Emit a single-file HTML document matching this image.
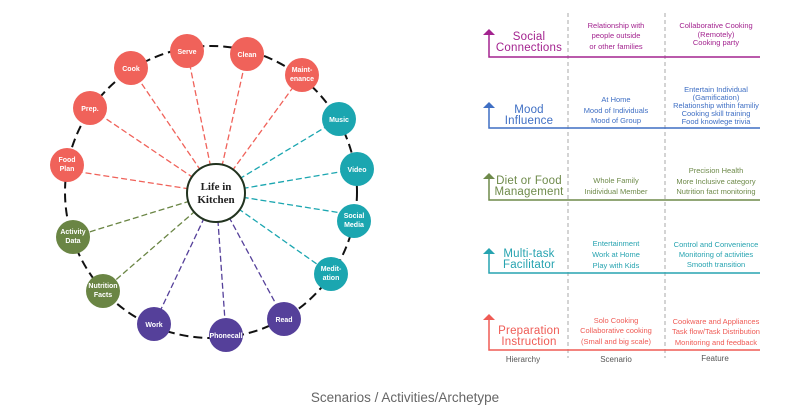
<!DOCTYPE html>
<html><head><meta charset="utf-8"><style>
html,body{margin:0;padding:0;background:#fff;}
svg{display:block;}
.n{font-family:"Liberation Sans",sans-serif;font-size:7px;fill:#fff;text-anchor:middle;font-weight:bold;}
.h{font-size:11.5px;letter-spacing:0.2px;}
</style></head><body>
<svg width="800" height="418" viewBox="0 0 800 418" xmlns="http://www.w3.org/2000/svg">
<rect width="800" height="418" fill="#fff"/>
<circle cx="211" cy="192" r="146" fill="none" stroke="#111" stroke-width="2" stroke-dasharray="9,5"/>
<g stroke-width="1.3" stroke-dasharray="6,3" fill="none">
<g stroke="#f0625a">
<line x1="216" y1="193" x2="187" y2="51"/><line x1="216" y1="193" x2="247" y2="54"/>
<line x1="216" y1="193" x2="302" y2="75"/><line x1="216" y1="193" x2="131" y2="68"/>
<line x1="216" y1="193" x2="90" y2="108"/><line x1="216" y1="193" x2="67" y2="170"/>
</g>
<g stroke="#1ba6b0">
<line x1="216" y1="193" x2="339" y2="119"/><line x1="216" y1="193" x2="357" y2="169"/>
<line x1="216" y1="193" x2="354" y2="215"/><line x1="216" y1="193" x2="331" y2="274"/>
</g>
<g stroke="#6a8544">
<line x1="216" y1="193" x2="73" y2="237"/><line x1="216" y1="193" x2="103" y2="291"/>
</g>
<g stroke="#55409a">
<line x1="216" y1="193" x2="154" y2="324"/><line x1="216" y1="193" x2="226" y2="335"/>
<line x1="216" y1="193" x2="284" y2="319"/>
</g>
</g>
<circle cx="216" cy="193" r="29" fill="#fff" stroke="#22331f" stroke-width="2"/>
<text x="216" y="190" style="font-family:'Liberation Serif',serif;font-size:11px;font-weight:bold" text-anchor="middle" fill="#222">Life in</text>
<text x="216" y="203" style="font-family:'Liberation Serif',serif;font-size:11px;font-weight:bold" text-anchor="middle" fill="#222">Kitchen</text>
<g>
<g fill="#f0625a">
<circle cx="187" cy="51" r="17"/><circle cx="247" cy="54" r="17"/><circle cx="302" cy="75" r="17"/>
<circle cx="131" cy="68" r="17"/><circle cx="90" cy="108" r="17"/><circle cx="67" cy="165" r="17"/>
</g>
<g fill="#1ba6b0">
<circle cx="339" cy="119" r="17"/><circle cx="357" cy="169" r="17"/><circle cx="354" cy="221" r="17"/><circle cx="331" cy="274" r="17"/>
</g>
<g fill="#6a8544"><circle cx="73" cy="237" r="17"/><circle cx="103" cy="291" r="17"/></g>
<g fill="#55409a"><circle cx="154" cy="324" r="17"/><circle cx="226" cy="335" r="17"/><circle cx="284" cy="319" r="17"/></g>
</g>
<text class="n" x="187" y="54">Serve</text>
<text class="n" x="247" y="57">Clean</text>
<text class="n" x="302" y="72">Maint-</text><text class="n" x="302" y="81">enance</text>
<text class="n" x="131" y="71">Cook</text>
<text class="n" x="90" y="111">Prep.</text>
<text class="n" x="67" y="162">Food</text><text class="n" x="67" y="171">Plan</text>
<text class="n" x="339" y="122">Music</text>
<text class="n" x="357" y="172">Video</text>
<text class="n" x="354" y="218">Social</text><text class="n" x="354" y="227">Media</text>
<text class="n" x="331" y="271">Medit-</text><text class="n" x="331" y="280">ation</text>
<text class="n" x="73" y="234">Activity</text><text class="n" x="73" y="243">Data</text>
<text class="n" x="103" y="288">Nutrition</text><text class="n" x="103" y="297">Facts</text>
<text class="n" x="154" y="327">Work</text>
<text class="n" x="226" y="338">Phonecall</text>
<text class="n" x="284" y="322">Read</text>

<g stroke="#aaa" stroke-width="1" stroke-dasharray="4,3">
<line x1="568" y1="13" x2="568" y2="358"/><line x1="665" y1="13" x2="665" y2="358"/>
</g>

<g font-family="Liberation Sans,sans-serif">
<g fill="#a3238f" stroke="#a3238f">
<polyline points="489,34 489,57 760,57" fill="none" stroke-width="1.5"/>
<polygon points="483,35 489,29 495,35" stroke="none"/>
</g>
<g fill="#a3238f">
<text class="h" x="529" y="40" text-anchor="middle">Social</text>
<text class="h" x="529" y="51" text-anchor="middle">Connections</text>
<text x="616" y="28" font-size="7.5" text-anchor="middle">Relationship with</text>
<text x="616" y="38" font-size="7.5" text-anchor="middle">people outside</text>
<text x="616" y="49" font-size="7.5" text-anchor="middle">or other families</text>
<text x="716" y="28" font-size="7.5" text-anchor="middle">Collaborative Cooking</text>
<text x="716" y="37" font-size="7.5" text-anchor="middle">(Remotely)</text>
<text x="716" y="45" font-size="7.5" text-anchor="middle">Cooking party</text>
</g>
<g fill="#3f6fc4" stroke="#3f6fc4">
<polyline points="489,107 489,128 760,128" fill="none" stroke-width="1.5"/>
<polygon points="483,108 489,102 495,108" stroke="none"/>
</g>
<g fill="#3f6fc4">
<text class="h" x="529" y="113" text-anchor="middle">Mood</text>
<text class="h" x="529" y="124" text-anchor="middle">Influence</text>
<text x="616" y="102" font-size="7.5" text-anchor="middle">At Home</text>
<text x="616" y="113" font-size="7.5" text-anchor="middle">Mood of Individuals</text>
<text x="616" y="123" font-size="7.5" text-anchor="middle">Mood of Group</text>
<text x="716" y="92" font-size="7.5" text-anchor="middle">Entertain Individual</text>
<text x="716" y="100" font-size="7.5" text-anchor="middle">(Gamification)</text>
<text x="716" y="108" font-size="7.5" text-anchor="middle">Relationship within familiy</text>
<text x="716" y="116" font-size="7.5" text-anchor="middle">Cooking skill training</text>
<text x="716" y="124" font-size="7.5" text-anchor="middle">Food knowlege trivia</text>
</g>
<g fill="#6e8a4a" stroke="#6e8a4a">
<polyline points="489,178 489,200 760,200" fill="none" stroke-width="1.5"/>
<polygon points="483,179 489,173 495,179" stroke="none"/>
</g>
<g fill="#6e8a4a">
<text class="h" x="529" y="184" text-anchor="middle">Diet or Food</text>
<text class="h" x="529" y="195" text-anchor="middle">Management</text>
<text x="616" y="183" font-size="7.5" text-anchor="middle">Whole Family</text>
<text x="616" y="194" font-size="7.5" text-anchor="middle">Inidividual Member</text>
<text x="716" y="173" font-size="7.5" text-anchor="middle">Precision Health</text>
<text x="716" y="184" font-size="7.5" text-anchor="middle">More Inclusive category</text>
<text x="716" y="194" font-size="7.5" text-anchor="middle">Nutrition fact monitoring</text>
</g>
<g fill="#26a3b0" stroke="#26a3b0">
<polyline points="489,253 489,273 760,273" fill="none" stroke-width="1.5"/>
<polygon points="483,254 489,248 495,254" stroke="none"/>
</g>
<g fill="#26a3b0">
<text class="h" x="529" y="257" text-anchor="middle">Multi-task</text>
<text class="h" x="529" y="268" text-anchor="middle">Facilitator</text>
<text x="616" y="246" font-size="7.5" text-anchor="middle">Entertainment</text>
<text x="616" y="257" font-size="7.5" text-anchor="middle">Work at Home</text>
<text x="616" y="268" font-size="7.5" text-anchor="middle">Play with Kids</text>
<text x="716" y="247" font-size="7.5" text-anchor="middle">Control and Convenience</text>
<text x="716" y="257" font-size="7.5" text-anchor="middle">Monitoring of activities</text>
<text x="716" y="267" font-size="7.5" text-anchor="middle">Smooth transition</text>
</g>
<g fill="#ef5b55" stroke="#ef5b55">
<polyline points="489,319 489,350 760,350" fill="none" stroke-width="1.5"/>
<polygon points="483,320 489,314 495,320" stroke="none"/>
</g>
<g fill="#ef5b55">
<text class="h" x="529" y="334" text-anchor="middle">Preparation</text>
<text class="h" x="529" y="345" text-anchor="middle">Instruction</text>
<text x="616" y="323" font-size="7.5" text-anchor="middle">Solo Cooking</text>
<text x="616" y="333" font-size="7.5" text-anchor="middle">Collaborative cooking</text>
<text x="616" y="344" font-size="7.5" text-anchor="middle">(Small and big scale)</text>
<text x="716" y="324" font-size="7.5" text-anchor="middle">Cookware and Appliances</text>
<text x="716" y="334" font-size="7.5" text-anchor="middle">Task flow/Task Distribution</text>
<text x="716" y="345" font-size="7.5" text-anchor="middle">Monitoring and feedback</text>
</g>
<g fill="#555" font-size="8">
<text x="523" y="362" text-anchor="middle">Hierarchy</text>
<text x="616" y="362" text-anchor="middle">Scenario</text>
<text x="715" y="361" text-anchor="middle">Feature</text>
</g>
<text x="405" y="402" font-size="13.5" fill="#666" text-anchor="middle">Scenarios / Activities/Archetype</text>
</g>
</svg>
</body></html>
